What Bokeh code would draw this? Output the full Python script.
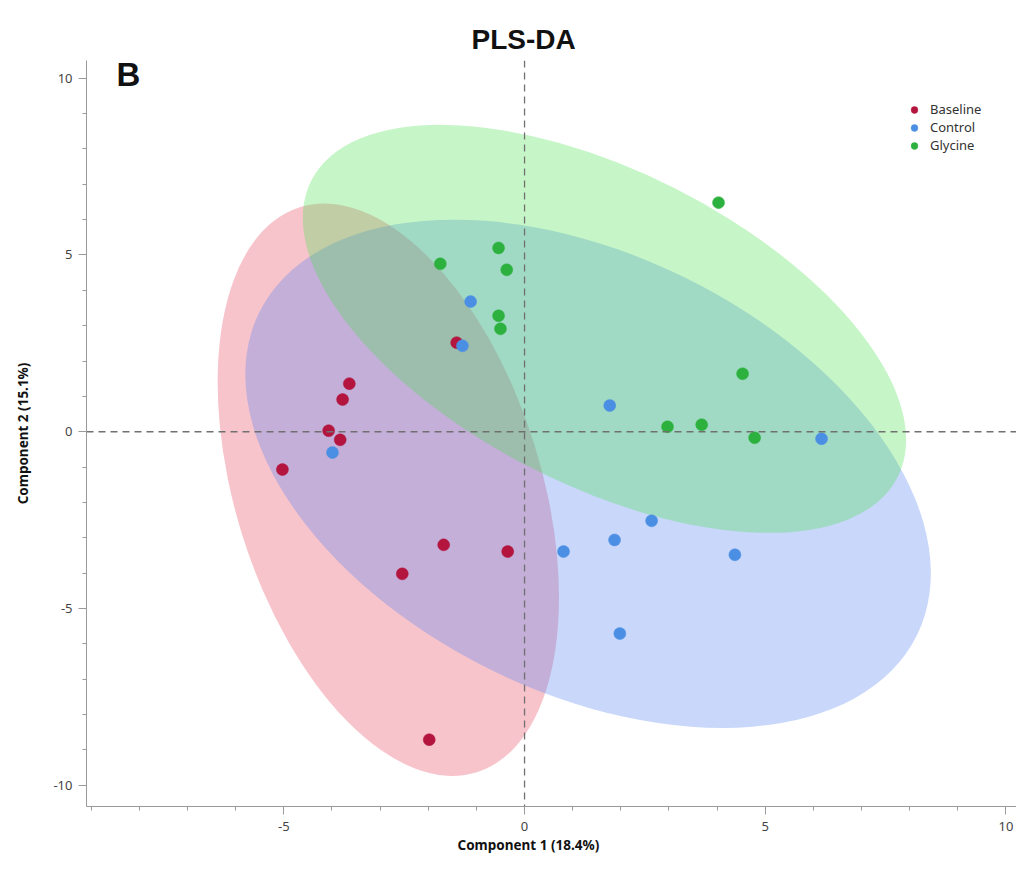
from bokeh.plotting import figure
from bokeh.models import Span, Label, Legend, LegendItem, FixedTicker, Range1d, Title
from bokeh.embed import file_html
from bokeh.resources import INLINE

# ---- data ----
groups = ["Baseline", "Control", "Glycine"]
point_colors = ["#B3153F", "#4A8FE3", "#2CB13E"]
ellipse_colors = ["#E94760", "#5382EF", "#4DE053"]

baseline_x = [-3.64, -3.78, -4.07, -3.83, -5.03, -1.68, -2.54, -0.35, -1.98, -1.41]
baseline_y = [1.36, 0.91, 0.03, -0.23, -1.07, -3.20, -4.02, -3.39, -8.71, 2.52]
control_x = [-3.99, -1.12, -1.29, 1.77, 0.81, 1.87, 2.64, 1.98, 4.37, 6.17]
control_y = [-0.59, 3.68, 2.43, 0.74, -3.39, -3.06, -2.52, -5.71, -3.48, -0.20]
glycine_x = [4.03, -0.54, -1.75, -0.37, -0.54, -0.50, 4.53, 2.97, 3.68, 4.78]
glycine_y = [6.48, 5.20, 4.75, 4.58, 3.28, 2.91, 1.64, 0.14, 0.20, -0.17]

# 95% confidence ellipses (center, full width/height, rotation in degrees)
ellipse_cx = [-2.83, 1.32, 1.66]
ellipse_cy = [-1.64, -1.19, 2.91]
ellipse_w = [12.30, 15.22, 13.65]
ellipse_h = [8.65, 12.38, 8.89]
ellipse_angle = [-72.6, -26.1, -26.8]

x_major = [-5, 0, 5, 10]
y_major = [-10, -5, 0, 5, 10]
x_minor = list(range(-9, 11))
y_minor = list(range(-10, 11))
tick_text = {-10: "-10", -5: "-5", 0: "0", 5: "5", 10: "10"}

title_text = "PLS-DA"
panel_letter = "B"
x_label = "Component 1 (18.4%)"
y_label = "Component 2 (15.1%)"

# ---- figure ----
p = figure(width=1016, height=856, output_backend="svg", toolbar_location=None,
           x_range=Range1d(-9.1, 10.22), y_range=Range1d(-10.6, 10.5),
           min_border_left=86, min_border_right=0, min_border_top=60, min_border_bottom=50)
p.outline_line_color = None
p.xgrid.visible = False
p.ygrid.visible = False
p.background_fill_color = "white"

# title
p.title.text = title_text
p.title.align = "left"
p.title.offset = 385
p.title.text_font = "Liberation Sans"
p.title.text_font_size = "28px"
p.title.text_font_style = "bold"
p.title.text_color = "#111111"
p.title.standoff = 12

# ellipses
for i in range(3):
    p.ellipse(x=[ellipse_cx[i]], y=[ellipse_cy[i]], width=[ellipse_w[i]], height=[ellipse_h[i]],
              angle=[ellipse_angle[i]], angle_units="deg",
              fill_color=ellipse_colors[i], fill_alpha=0.32, line_color=None)

# reference lines
for dim in ("height", "width"):
    s = Span(location=0, dimension=dim, line_color="#707070", line_dash="7 5",
             line_width=1.3, level="glyph")
    p.add_layout(s)

# points
xs = [baseline_x, control_x, glycine_x]
ys = [baseline_y, control_y, glycine_y]
renderers = []
for i in range(3):
    r = p.scatter(x=xs[i], y=ys[i], size=12, fill_color=point_colors[i],
                  line_color=point_colors[i], line_width=0.5)
    renderers.append(r)

legend = Legend(items=[LegendItem(label=groups[i], renderers=[renderers[i]]) for i in range(3)],
                location=(818, 652), padding=0, margin=0, spacing=0,
                glyph_width=20, glyph_height=17, label_height=17, label_standoff=6,
                label_text_font="Noto Sans", label_text_font_size="13px",
                label_text_color="#333333", border_line_alpha=0, background_fill_alpha=0)
p.add_layout(legend)

# panel letter
p.add_layout(Label(x=30, y=751, x_units="screen", y_units="screen", text=panel_letter,
                   text_font="Liberation Sans", text_font_size="33px", text_font_style="bold",
                   text_baseline="top", text_color="#111111"))

# x axis title, placed below the axis (centred under the figure as in the original)
xt = Title(text=x_label, align="left", offset=371, standoff=0,
           text_font="Noto Sans", text_font_size="13.5px", text_font_style="bold",
           text_color="#111111")
p.add_layout(xt, "below")

# axes
for ax in (p.xaxis[0], p.yaxis[0]):
    ax.axis_line_color = "#9a9a9a"
    ax.major_tick_line_color = "#9a9a9a"
    ax.minor_tick_line_color = "#9a9a9a"
    ax.major_tick_out = 8
    ax.major_tick_in = 0
    ax.minor_tick_out = 4
    ax.minor_tick_in = 0
    ax.major_label_text_font = "Noto Sans"
    ax.major_label_text_font_size = "13px"
    ax.major_label_text_color = "#444444"
    ax.axis_label_text_font = "Noto Sans"
    ax.axis_label_text_font_size = "13.5px"
    ax.axis_label_text_font_style = "bold"
    ax.axis_label_text_color = "#111111"
    ax.major_label_overrides = tick_text

p.xaxis[0].ticker = FixedTicker(ticks=x_major, minor_ticks=x_minor)
p.yaxis[0].ticker = FixedTicker(ticks=y_major, minor_ticks=y_minor)
p.yaxis[0].axis_label = y_label
p.xaxis[0].major_label_standoff = 7
p.yaxis[0].major_label_standoff = 6
p.yaxis[0].axis_label_standoff = 18

open("out.html", "w").write(file_html(p, INLINE))
